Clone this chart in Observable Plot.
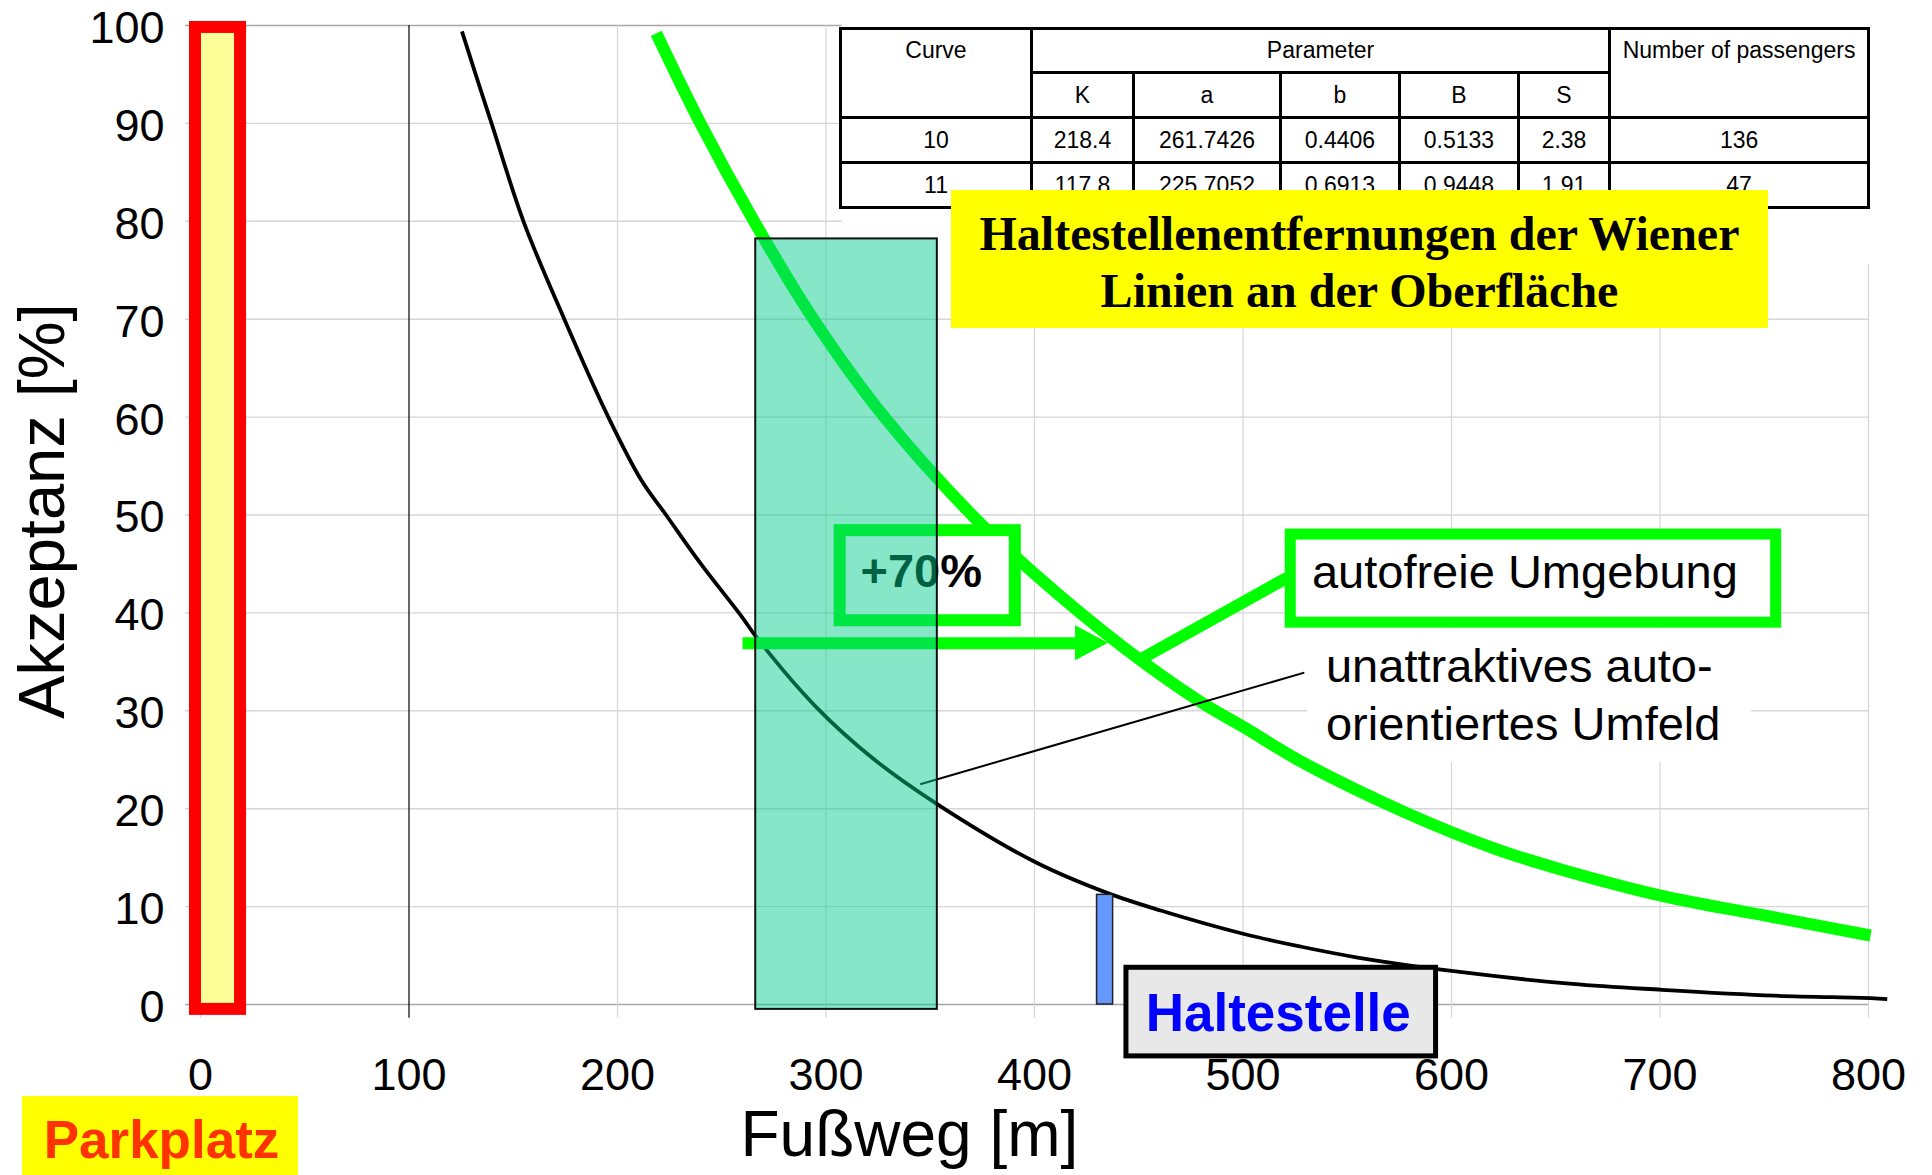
<!DOCTYPE html>
<html>
<head>
<meta charset="utf-8">
<script src="https://cdn.jsdelivr.net/npm/d3@7"></script>
<script src="https://cdn.jsdelivr.net/npm/@observablehq/plot@0.6"></script>
<style>
html, body { margin: 0; padding: 0; background: #fff; overflow: hidden; }
#wrap { position: relative; width: 1932px; height: 1175px; }
#wrap svg { position: absolute; left: 0; top: 0; }
#tbl { position: absolute; left: 839px; top: 27px; border-collapse: collapse; table-layout: fixed;
  font-family: "Liberation Sans", Arial, sans-serif; font-size: 23px; background: #fff; color: #000; }
#tbl td { border: 3px solid #000; text-align: center; vertical-align: middle; padding: 0; line-height: 1.15; }
#tbl td.hd { vertical-align: top; padding-top: 7px; }
#title { position: absolute; left: 951px; top: 190px; width: 817px; height: 138px; box-sizing: border-box;
  background: #ffff00; font-family: "Liberation Serif", "Times New Roman", serif; font-weight: bold;
  font-size: 48px; line-height: 57px; text-align: center; padding-top: 15px; color: #000; }
</style>
</head>
<body>
<div id="wrap"></div>
<script>
// ---------- data ----------
const xTicks = [0, 100, 200, 300, 400, 500, 600, 700, 800];
const yTicks = [0, 10, 20, 30, 40, 50, 60, 70, 80, 90, 100];

// black curve: "unattraktives auto-orientiertes Umfeld"
const unattraktivX = [125.4, 135, 139.6, 154.9, 174.5, 195.6, 211.3, 223.3, 240, 260, 266.7, 295.2, 322.7, 353.1, 400.8, 434.8, 460.5, 500.5, 528, 555, 601, 658, 701, 755, 801, 809];
const unattraktivY = [99.4, 93.0, 90, 80, 70, 60, 53.6, 50, 45.0, 39.5, 37.5, 30.4, 25.1, 20.5, 14.5, 11.4, 9.6, 7.2, 5.9, 4.8, 3.4, 2.1, 1.5, 0.9, 0.65, 0.55];

// green curve: "autofreie Umgebung"
const autofreiX = [218.6, 239.8, 265.5, 294, 328, 370, 400, 442, 479, 500.6, 528, 578, 621, 652.5, 701, 752.5, 801];
const autofreiY = [99.2, 90, 80, 70, 60, 50, 44.0, 36.6, 31.0, 28.3, 24.8, 19.6, 15.9, 13.8, 11.1, 9.0, 7.05];

// table
const tableHeader = ["Curve", "Parameter", "Number of passengers"];
const paramNames = ["K", "a", "b", "B", "S"];
const tableRows = [
  ["10", "218.4", "261.7426", "0.4406", "0.5133", "2.38", "136"],
  ["11", "117.8", "225.7052", "0.6913", "0.9448", "1.91", "47"]
];
const titleLines = ["Haltestellenentfernungen der Wiener", "Linien an der Oberfläche"];

// labels
const xTitle = "Fußweg [m]";
const yTitle = "Akzeptanz [%]";
const parkLabel = "Parkplatz";
const stopLabel = "Haltestelle";
const gainLabel = "+70%";
const greenLabel = "autofreie Umgebung";
const blackLabel = "unattraktives auto-\norientiertes Umfeld";

// annotation regions (data units: metres / percent)
const parkZone = [{x1: -2.4, x2: 19.2, y1: -0.5, y2: 99.8}];
const parkTag = [{x1: -85.4, x2: 47, y1: -17.5, y2: -9.4, x: -18.7, y: -15.7}];
const walkZone = [{x1: 266.3, x2: 353.4, y1: -0.5, y2: 78.2}];
const stopPole = [{x1: 430, x2: 437.7, y1: 0, y2: 11.2}];
const stopTag = [{x1: 444.1, x2: 592.6, y1: -5.3, y2: 3.75, x: 516.9, y: -2.66}];
const gainBox = [{x1: 306.8, x2: 390.8, y1: 39.2, y2: 48.4, x: 345.7, y: 42.6}];
const gainArrow = [{x1: 260.2, x2: 420, y: 36.9}];
const gainHead = [{x: 419.7, y1: 35.1, y2: 38.7}, {x: 435.5, y1: 36.9, y2: 36.9}];
const greenBox = [{x1: 522.9, x2: 755.7, y1: 39.0, y2: 48.0, x: 635.2, y: 42.5}];
const greenLeader = [{x1: 449.5, y1: 35.1, x2: 521.2, y2: 43.6}];
const blackLeader = [{x1: 529.4, y1: 33.9, x2: 345.2, y2: 22.5}];
const blackTextBg = [{x1: 531, x2: 744, y1: 24.7, y2: 38.4, x: 539.8, y: 26.97}];
const tableBg = [{x1: 307.7, x2: 803.5, y1: 75.6, y2: 100.3}];

// ---------- build ----------
const unattraktiv = unattraktivX.map((x, i) => ({x, y: unattraktivY[i]}));
const autofrei = autofreiX.map((x, i) => ({x, y: autofreiY[i]}));
const vGrid = xTicks.filter(d => d !== 100);

const chart = Plot.plot({
  width: 1932,
  height: 1175,
  marginLeft: 200,
  marginRight: 64,
  marginTop: 25,
  marginBottom: 171,
  x: {domain: [0, 800]},
  y: {domain: [0, 100]},
  style: {fontFamily: "'Liberation Sans', Arial, sans-serif", fontSize: "45px", background: "#fff", color: "#000"},
  marks: [
    // grid
    Plot.ruleY(yTicks, {x1: -7.2, x2: 800, stroke: d => (d === 0 || d === 100) ? "#a6a6a6" : "#d6d6d6", strokeWidth: 1.4}),
    Plot.ruleX(vGrid, {y1: -1.4, y2: 100, stroke: "#d6d6d6", strokeWidth: 1.2}),
    Plot.ruleX([100], {y1: -1.4, y2: 100, stroke: "#000", strokeWidth: 1.2}),
    Plot.rect(tableBg, {x1: "x1", x2: "x2", y1: "y1", y2: "y2", fill: "#fff"}),
    Plot.rect(blackTextBg, {x1: "x1", x2: "x2", y1: "y1", y2: "y2", fill: "#fff"}),
    // axes
    Plot.axisY(yTicks, {tickSize: 0, tickPadding: 36, fontSize: 45, dy: 3, label: null}),
    Plot.axisX(xTicks, {tickSize: 0, tickPadding: 54, fontSize: 45, label: null}),
    Plot.text([xTitle], {x: () => 340, y: () => -15.5, text: d => d, fontSize: 64, lineAnchor: "bottom"}),
    Plot.text([yTitle], {x: () => -75.3, y: () => 50.4, text: d => d, fontSize: 65, rotate: -90}),
    // parking zone
    Plot.rect(parkZone, {x1: "x1", x2: "x2", y1: "y1", y2: "y2", fill: "#ffff99", stroke: "#ff0000", strokeWidth: 12}),
    Plot.rect(parkTag, {x1: "x1", x2: "x2", y1: "y1", y2: "y2", fill: "#ffff00"}),
    Plot.text(parkTag, {x: "x", y: "y", text: () => parkLabel, fontSize: 53, fontWeight: "bold", fill: "#ff3300", lineAnchor: "bottom"}),
    // curves
    Plot.line(unattraktiv, {x: "x", y: "y", stroke: "#000", strokeWidth: 3.8, curve: "catmull-rom", strokeLinecap: "butt"}),
    Plot.line(autofrei, {x: "x", y: "y", stroke: "#00ff00", strokeWidth: 12, curve: "catmull-rom", strokeLinecap: "butt"}),
    // +70% arrow and box
    Plot.ruleY(gainArrow, {x1: "x1", x2: "x2", y: "y", stroke: "#00ff00", strokeWidth: 12}),
    Plot.areaY(gainHead, {x: "x", y1: "y1", y2: "y2", fill: "#00ff00"}),
    Plot.rect(gainBox, {x1: "x1", x2: "x2", y1: "y1", y2: "y2", fill: "#fff", stroke: "#00ff00", strokeWidth: 12}),
    Plot.text(gainBox, {x: "x", y: "y", text: () => gainLabel, fontSize: 47, fontWeight: "bold", lineAnchor: "bottom", fill: "#000"}),
    // autofreie Umgebung label
    Plot.link(greenLeader, {x1: "x1", y1: "y1", x2: "x2", y2: "y2", stroke: "#00ff00", strokeWidth: 12}),
    Plot.rect(greenBox, {x1: "x1", x2: "x2", y1: "y1", y2: "y2", fill: "#fff", stroke: "#00ff00", strokeWidth: 11}),
    Plot.text(greenBox, {x: "x", y: "y", text: () => greenLabel, fontSize: 47, lineAnchor: "bottom", fill: "#000"}),
    // unattraktives label
    Plot.link(blackLeader, {x1: "x1", y1: "y1", x2: "x2", y2: "y2", stroke: "#000", strokeWidth: 2}),
    Plot.text(blackTextBg, {x: "x", y: "y", text: () => blackLabel, fontSize: 47, lineAnchor: "bottom", textAnchor: "start", lineHeight: 1.24, fill: "#000"}),
    // walking zone overlay
    Plot.rect(walkZone, {x1: "x1", x2: "x2", y1: "y1", y2: "y2", fill: "#00cb8c", fillOpacity: 0.48, stroke: "#111", strokeWidth: 2}),
    // stop
    Plot.rect(stopPole, {x1: "x1", x2: "x2", y1: "y1", y2: "y2", fill: "#6699ff", stroke: "#222", strokeWidth: 1.5}),
    Plot.rect(stopTag, {x1: "x1", x2: "x2", y1: "y1", y2: "y2", fill: "#e8e8e8", stroke: "#000", strokeWidth: 5}),
    Plot.text(stopTag, {x: "x", y: "y", text: () => stopLabel, fontSize: 53, fontWeight: "bold", fill: "#0000ff", lineAnchor: "bottom"})
  ]
});

const wrap = document.getElementById("wrap");
wrap.appendChild(chart);

// table overlay
const colWidths = [191, 102, 147, 119, 119, 91, 259];
const rowHeights = [44, 45, 45, 45];
const tbl = document.createElement("table");
tbl.id = "tbl";
tbl.style.width = d3.sum(colWidths) + "px";
const cg = document.createElement("colgroup");
colWidths.forEach(w => { const c = document.createElement("col"); c.style.width = w + "px"; cg.appendChild(c); });
tbl.appendChild(cg);
const r1 = tbl.insertRow(); r1.style.height = rowHeights[0] + "px";
tableHeader.forEach((h, i) => {
  const c = r1.insertCell(); c.textContent = h; c.className = "hd";
  if (i === 1) c.colSpan = paramNames.length; else c.rowSpan = 2;
});
const r2 = tbl.insertRow(); r2.style.height = rowHeights[1] + "px";
paramNames.forEach(p => { const c = r2.insertCell(); c.textContent = p; });
tableRows.forEach((row, k) => {
  const r = tbl.insertRow(); r.style.height = rowHeights[k + 2] + "px";
  row.forEach(v => { const c = r.insertCell(); c.textContent = v; });
});
wrap.appendChild(tbl);

const title = document.createElement("div");
title.id = "title";
title.innerHTML = titleLines.join("<br>");
wrap.appendChild(title);
</script>
</body>
</html>
